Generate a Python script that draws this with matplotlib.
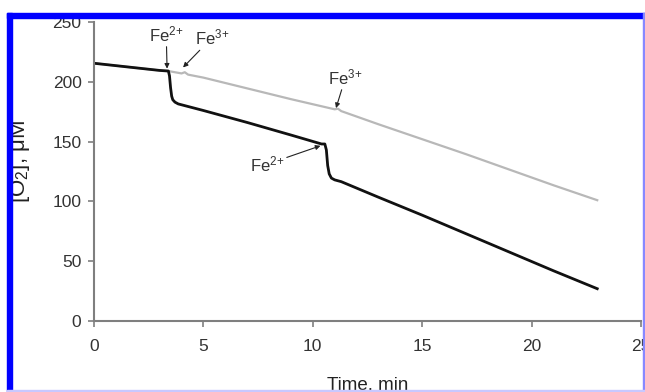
import matplotlib.pyplot as plt
from matplotlib.patches import Rectangle

# black trace: Fe2+ added twice
t_fe2 = [0, 1, 2, 3, 3.4, 3.45, 3.5, 3.55, 3.6, 3.7, 3.85, 5, 7, 9, 10.4, 10.55, 10.62, 10.68, 10.75, 10.85, 11.0, 11.3, 13, 15, 17, 19, 21, 23]
o2_fe2 = [215.5, 213.5, 211.5, 209.5, 209, 205, 195, 188, 185, 183, 181.5, 176, 166, 155.5, 148, 148, 143, 130, 123, 119.5, 118, 116.5, 103.5, 88.5, 73, 57.5, 42, 27]

# grey trace: Fe3+ added twice
t_fe3 = [0, 1, 2, 3, 3.4, 4.0, 4.15, 4.3, 5, 7, 9, 11.0, 11.15, 11.3, 13, 15, 17, 19, 21, 23]
o2_fe3 = [215.5, 213.5, 211.5, 209.5, 209, 207, 208, 206, 203.5, 194.5, 185.5, 177, 177.5, 175.5, 164.5, 152, 139.5, 126.5, 113.5, 101]

# (text, text pos, arrow tip)
notes = [
    ("$\\mathregular{Fe^{2{+}}}$", (3.3, 240), (3.34, 211)),
    ("$\\mathregular{Fe^{3{+}}}$", (5.4, 237), (4.07, 212)),
    ("$\\mathregular{Fe^{3{+}}}$", (11.5, 204), (11.06, 178)),
    ("$\\mathregular{Fe^{2{+}}}$", (7.9, 131), (10.35, 146.5)),
]

plt.rcParams['font.family'] = ['Liberation Sans', 'DejaVu Sans']
plt.rcParams['mathtext.fontset'] = 'custom'
plt.rcParams['mathtext.rm'] = 'Liberation Sans'

fig = plt.figure(figsize=(6.45, 3.92), dpi=100)
ax = fig.add_axes([94 / 645, 1 - 321 / 392, 547 / 645, 299 / 392])

ax.plot(t_fe3, o2_fe3, color='#b8b8b8', lw=1.6)
ax.plot(t_fe2, o2_fe2, color='#111111', lw=2.0)

arrow = dict(arrowstyle='-|>', color='#222222', lw=0.8, mutation_scale=7, shrinkA=0, shrinkB=0)
for label, xy_text, xy in notes:
    ax.annotate(label, xy=xy, xytext=xy_text, ha='center', va='center',
                fontsize=12, color='#333333', arrowprops=arrow)

ax.set_xlim(0, 25)
ax.set_ylim(0, 250)
ax.set_xticks([0, 5, 10, 15, 20, 25])
ax.set_yticks([0, 50, 100, 150, 200, 250])
for side in ['top', 'right']:
    ax.spines[side].set_visible(False)
for side in ['left', 'bottom']:
    ax.spines[side].set_color('#7f7f7f')
    ax.spines[side].set_linewidth(1.5)
ax.tick_params(colors='#7f7f7f', labelcolor='#333333', labelsize=12.5, length=4, width=1.2, direction='out')
ax.tick_params(axis='x', pad=9)
ax.tick_params(axis='y', pad=5)

ax.set_xlabel("Time, min", fontsize=13.5, color='#222222', labelpad=16)
ax.set_ylabel("[O$_2$], \u03bcM", fontsize=16, color='#222222')
ax.yaxis.set_label_coords(-0.113, 0.535)

# blue frame of the cropped picture
fig.patches.append(Rectangle((7 / 645, 0), 5 / 645, 1 - 13 / 392, transform=fig.transFigure,
                             color='#0000ff', zorder=10))
fig.patches.append(Rectangle((7 / 645, 1 - 18 / 392), 638 / 645, 5 / 392, transform=fig.transFigure,
                             color='#0000ff', zorder=10))
fig.patches.append(Rectangle((643 / 645, 0), 2 / 645, 1 - 13 / 392, transform=fig.transFigure,
                             color='#8888ff', zorder=10))
fig.patches.append(Rectangle((7 / 645, 0), 638 / 645, 2 / 392, transform=fig.transFigure,
                             color='#c8c8ff', zorder=10))

fig.savefig("out.png", dpi=100)
